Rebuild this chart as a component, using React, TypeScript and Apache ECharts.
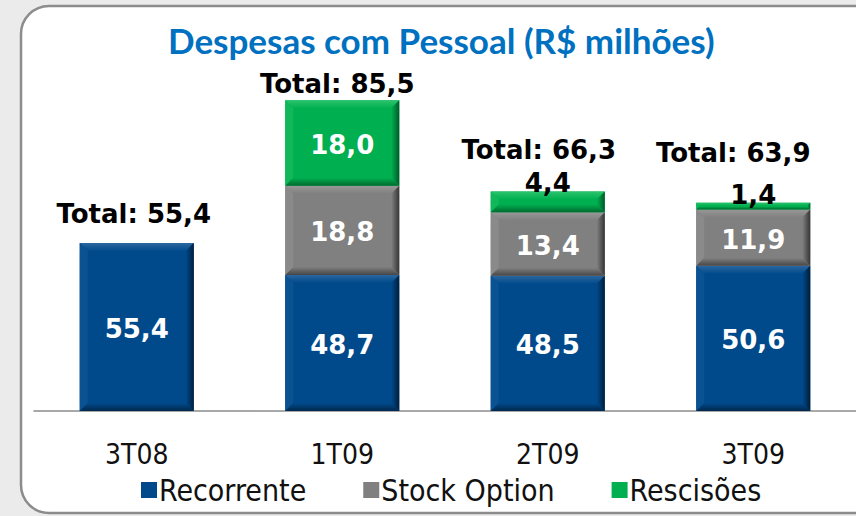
import React, { useEffect, useRef } from "react";
import * as echarts from "echarts";

const titleText = "Despesas com Pessoal (R$ milhões)";
const categories = ["3T08", "1T09", "2T09", "3T09"];
const seriesNames = ["Recorrente", "Stock Option", "Rescisões"];
const recorrente: (number | null)[] = [55.4, 48.7, 48.5, 50.6];
const stockOption: (number | null)[] = [null, 18.8, 13.4, 11.9];
const rescisoes: (number | null)[] = [null, 18.0, 4.4, 1.4];
const totals = [55.4, 85.5, 66.3, 63.9];

// styling
const AXIS_MIN = 20;
const AXIS_MAX = 90;
const BAR_RATIO = 0.555;
const BEVEL = 8;
const totalOffsets: [number, number][] = [
  [-3, -29],
  [-5, -16],
  [-9, -41],
  [-20, -50],
];
const palettes = [
  { face: "#004A8C", top: "#2B679F", left: "#0A5292", right: "#001E3A", bottom: "#00284C" },
  { face: "#808080", top: "#989898", left: "#8A8A8A", right: "#353535", bottom: "#464646" },
  { face: "#00B050", top: "#2CC46C", left: "#10B85A", right: "#005A28", bottom: "#006A30" },
];
const LABEL_FONT = 'bold 26px "DejaVu Sans", Verdana, sans-serif';
const CAT_FONT = '"DejaVu Sans Condensed", "Liberation Sans Narrow", sans-serif';

const fmt = (v: number) => v.toFixed(1).replace(".", ",");

export default function App() {
  const ref = useRef<HTMLDivElement>(null);
  useEffect(() => {
    if (!ref.current) return;
    const chart = echarts.init(ref.current, undefined, { renderer: "svg" });
    const stacks = [recorrente, stockOption, rescisoes];

    const makeRender = (si: number) => (params: any, api: any) => {
      const pal = palettes[si];
      const ci = api.value(0);
      const lo = Math.max(api.value(1), AXIS_MIN);
      const hi = api.value(2);
      const v = api.value(3);
      const pLo = api.coord([ci, lo]);
      const pHi = api.coord([ci, hi]);
      const bw = api.size([1, 0])[0] * BAR_RATIO;
      const l = pLo[0] - bw / 2;
      const r = pLo[0] + bw / 2;
      const t = pHi[1];
      const b = pLo[1];
      const h = b - t;
      const bv = Math.min(BEVEL, h / 2.2, bw / 2);
      const children: any[] = [
        { type: "rect", shape: { x: l, y: t, width: bw, height: h }, style: { fill: pal.face } },
        {
          type: "polygon",
          shape: { points: [[l, t], [r, t], [r - bv, t + bv], [l + bv, t + bv]] },
          style: {
            fill: new echarts.graphic.LinearGradient(0, 0, 0, 1, [
              { offset: 0, color: pal.top },
              { offset: 1, color: pal.face },
            ]),
          },
        },
        {
          type: "polygon",
          shape: { points: [[l, t], [l + bv, t + bv], [l + bv, b - bv], [l, b]] },
          style: { fill: pal.left },
        },
        {
          type: "polygon",
          shape: { points: [[r, t], [r, b], [r - bv, b - bv], [r - bv, t + bv]] },
          style: {
            fill: new echarts.graphic.LinearGradient(0, 0, 1, 0, [
              { offset: 0, color: pal.face },
              { offset: 1, color: pal.right },
            ]),
          },
        },
        {
          type: "polygon",
          shape: { points: [[l, b], [r, b], [r - bv, b - bv], [l + bv, b - bv]] },
          style: {
            fill: new echarts.graphic.LinearGradient(0, 0, 0, 1, [
              { offset: 0, color: pal.face },
              { offset: 1, color: pal.bottom },
            ]),
          },
        },
      ];
      if (h >= 30) {
        children.push({
          type: "text",
          x: pLo[0],
          y: (t + b) / 2 + 2,
          style: { text: fmt(v), fill: "#ffffff", font: LABEL_FONT, align: "center", verticalAlign: "middle" },
        });
      } else {
        children.push({
          type: "text",
          x: pLo[0],
          y: t + 5,
          style: { text: fmt(v), fill: "#000000", font: LABEL_FONT, align: "center", verticalAlign: "bottom" },
        });
      }
      return { type: "group", children };
    };

    const series: any[] = stacks.map((arr, si) => {
      const data: any[] = [];
      categories.forEach((_, i) => {
        const v = arr[i];
        if (v == null) return;
        let base = 0;
        for (let k = 0; k < si; k++) base += stacks[k][i] ?? 0;
        data.push([i, base, base + v, v]);
      });
      return {
        name: seriesNames[si],
        type: "custom",
        renderItem: makeRender(si),
        encode: { x: 0, y: [1, 2] },
        itemStyle: { color: palettes[si].face },
        data,
      };
    });

    series.push({
      name: "Total",
      type: "custom",
      encode: { x: 0, y: 1 },
      z: 5,
      renderItem: (params: any, api: any) => {
        const ci = api.value(0);
        const p = api.coord([ci, api.value(1)]);
        const off = totalOffsets[params.dataIndex];
        return {
          type: "text",
          x: p[0] + off[0],
          y: p[1] + off[1],
          style: {
            text: "Total: " + fmt(api.value(1)),
            fill: "#000000",
            font: LABEL_FONT,
            align: "center",
            verticalAlign: "middle",
          },
        };
      },
      data: totals.map((t, i) => [i, t]),
    });

    chart.setOption({
      animation: false,
      backgroundColor: "#EBEBEB",
      title: {
        text: titleText,
        left: 168,
        top: 22,
        padding: 0,
        textStyle: { color: "#0070C0", fontFamily: "Lato, 'Open Sans', sans-serif", fontWeight: "bold", fontSize: 35 },
      },
      graphic: [
        {
          type: "rect",
          z: -10,
          silent: true,
          shape: { x: 21, y: 6, width: 900, height: 507, r: 28 },
          style: { fill: "#ffffff", stroke: "#8C8C8C", lineWidth: 2.5 },
        },
      ],
      legend: {
        data: seriesNames,
        left: 136,
        top: 470,
        itemGap: 57,
        itemWidth: 16,
        itemHeight: 16,
        icon: "rect",
        textStyle: { fontFamily: CAT_FONT, fontSize: 30, color: "#111111", padding: [0, 0, 0, -3] },
      },
      grid: { left: 34, top: 79, width: 830, height: 332 },
      xAxis: {
        type: "category",
        data: categories,
        axisLine: { lineStyle: { color: "#8C8C8C", width: 1.5 } },
        axisTick: { length: 9, lineStyle: { color: "#8C8C8C", width: 1.5 } },
        axisLabel: { margin: 29, fontFamily: CAT_FONT, fontSize: 28, color: "#111111" },
      },
      yAxis: {
        type: "value",
        min: AXIS_MIN,
        max: AXIS_MAX,
        show: false,
        splitLine: { show: false },
      },
      series,
    });
    return () => chart.dispose();
  }, []);
  return (
    <div
      ref={ref}
      style={{ position: "fixed", left: 0, top: 0, width: 856, height: 516 }}
    />
  );
}
